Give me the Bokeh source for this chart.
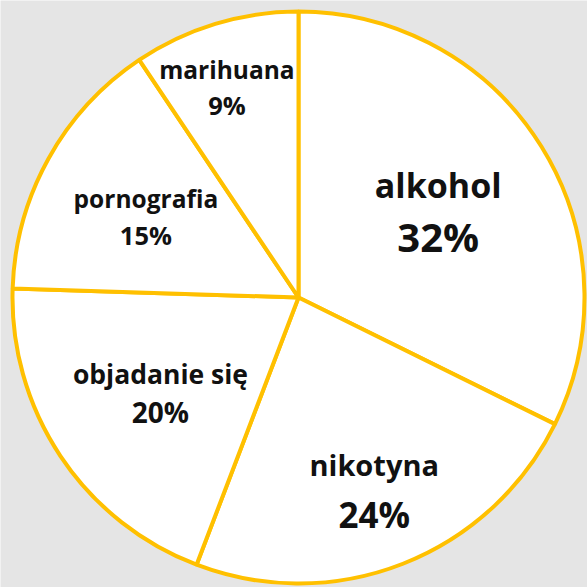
import math
from bokeh.plotting import figure
from bokeh.models import ColumnDataSource, Range1d
from bokeh.core.properties import value
from bokeh.embed import file_html
from bokeh.resources import INLINE

# ---- data ----
categories = ["alkohol", "nikotyna", "objadanie się", "pornografia", "marihuana"]
shares = [32.3, 23.5, 19.7, 15.1, 9.4]
pct_labels = ["32%", "24%", "20%", "15%", "9%"]

# ---- style ----
name_sizes = [34, 29, 26.5, 24.5, 24.5]
pct_sizes = [40, 35, 28, 25.5, 25.5]
label_radius = [0.575, 0.725, 0.58, 0.61, 0.78]
label_turn = [0, 0, 0, 0, 1.8]  # degrees, fine adjustment of label direction
line_gap = [26, 25, 19, 18, 18]
label_shift = [0, -1, 4, 4, 1]
GOLD = "#FFC000"
BG = "#E5E5E5"

W = H = 587
cx, cy, R = 298, 290, 286

total = float(sum(shares))
starts, ends, mids = [], [], []
acc = 0.0
for s in shares:
    a0 = math.pi / 2 - 2 * math.pi * acc / total
    acc += s
    a1 = math.pi / 2 - 2 * math.pi * acc / total
    starts.append(a0)
    ends.append(a1)
    mids.append((a0 + a1) / 2)

src = ColumnDataSource(dict(cat=categories, val=shares, start=starts, end=ends))

p = figure(width=W, height=H, x_range=Range1d(0, W), y_range=Range1d(0, H),
           output_backend="svg", toolbar_location=None, min_border=0)
p.axis.visible = False
p.grid.visible = False
p.outline_line_color = None
p.background_fill_color = BG
p.border_fill_color = BG

p.wedge(x=cx, y=cy, radius=R, start_angle="start", end_angle="end",
        direction="clock", fill_color="white", line_color=GOLD,
        line_width=4, source=src)

for i in range(len(categories)):
    a = mids[i] + math.radians(label_turn[i])
    lx = cx + label_radius[i] * R * math.cos(a)
    ly = cy + label_radius[i] * R * math.sin(a)
    p.text(x=[lx], y=[ly], text=[categories[i]], text_align="center",
           text_baseline="middle", y_offset=-line_gap[i] + label_shift[i],
           text_font=value("Open Sans"), text_font_style="bold",
           text_font_size=f"{name_sizes[i]}px", text_color="#111111")
    p.text(x=[lx], y=[ly], text=[pct_labels[i]], text_align="center",
           text_baseline="middle", y_offset=line_gap[i] + label_shift[i],
           text_font=value("Open Sans"), text_font_style="bold",
           text_font_size=f"{pct_sizes[i]}px", text_color="#111111")

open("out.html", "w").write(file_html(p, INLINE))
